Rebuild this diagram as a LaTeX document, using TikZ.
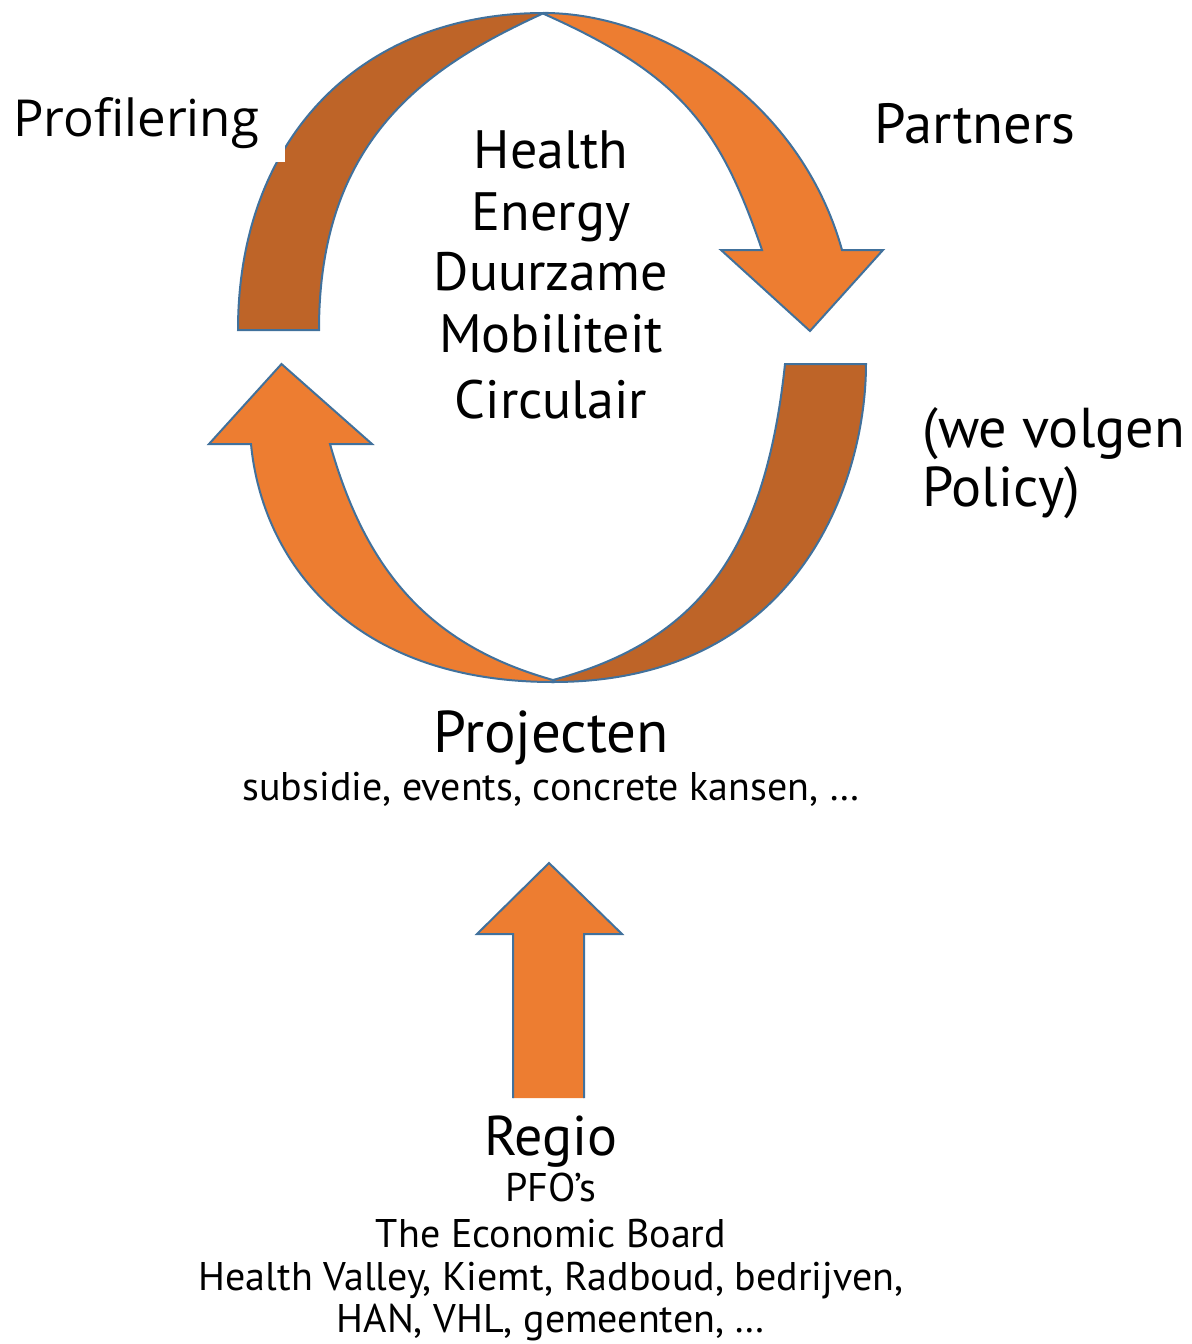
\documentclass[tikz,border=0pt]{standalone}
\usepackage{fontspec}
\setmainfont{PT Sans}
\newfontfamily\profont{Open Sans}
\definecolor{arrowfront}{HTML}{ED7D31}
\definecolor{arrowback}{HTML}{BE6428}
\definecolor{arrowline}{HTML}{41719C}
\begin{document}
\begin{tikzpicture}[x=0.5pt,y=-0.5pt,
  front/.style={fill=arrowfront,draw=arrowline,line width=1pt,line join=miter},
  back/.style={fill=arrowback,draw=arrowline,line width=1pt,line join=miter},
  bigtxt/.style={font=\fontsize{27}{31}\selectfont,inner sep=0pt,anchor=base},
  sidetxt/.style={font=\fontsize{28.1}{31}\selectfont,inner sep=0pt,anchor=base west},
  midtxt/.style={font=\fontsize{20}{24}\selectfont,inner sep=0pt,anchor=base}]
\useasboundingbox (0,0) rectangle (1192,1344);

% ---- top curved arrow: back (left leg)
\path[back] (238,330) .. controls (238,140) and (359,13) .. (544,13)
  .. controls (425.3,66.9) and (319,140) .. (319,330) -- cycle;
% ---- top curved arrow: front (right part with head)
\path[front] (544,13) .. controls (660,13) and (800,100) .. (842,250)
  -- (883,250) -- (810,331) -- (721,250) -- (762,250)
  .. controls (719.9,127) and (681,75) .. (544,14) -- cycle;

% ---- bottom curved arrow: back (right leg)
\path[back] (553,682) .. controls (800,682) and (866,480) .. (866,364)
  -- (785,364)
  .. controls (765,552.9) and (697.8,641) .. (553,680) -- cycle;
% ---- bottom curved arrow: front (left part with head)
\path[front] (553,682) .. controls (350,682) and (262,560) .. (251,444)
  -- (209,444) -- (281.5,364) -- (372,444) -- (330,444)
  .. controls (365.4,569) and (427.8,644.9) .. (553,680) -- cycle;

% ---- straight up arrow
\fill[arrowfront] (513,1098) -- (513,934) -- (477,934) -- (549,863) -- (622,934) -- (584,934) -- (584,1098) -- cycle;
\draw[arrowline,line width=1pt,line join=miter] (513,1098) -- (513,934) -- (477,934) -- (549,863) -- (622,934) -- (584,934) -- (584,1098);

% ---- text box of "Profilering"
\fill[white] (0,80) rectangle (285,162);

% ---- texts
\node[font=\profont\fontsize{25.5}{30}\selectfont,inner sep=0pt,anchor=base] (prof) at (136,136) {Profilering};
\node[bigtxt,font=\fontsize{28.3}{31}\selectfont] (partners) at (975,143) {Partners};
\node[bigtxt] (health) at (551,168) {Health};
\node[bigtxt] (energy) at (551,230) {Energy};
\node[bigtxt] (duurz) at (551,290) {Duurzame};
\node[bigtxt] (mobil) at (551,352) {Mobiliteit};
\node[bigtxt] (circ) at (551,418) {Circulair};
\node[sidetxt] (wevolgen) at (922,447) {(we volgen};
\node[sidetxt] (policy) at (922,506) {Policy)};
\node[bigtxt,font=\fontsize{29.5}{31}\selectfont] (proj) at (551,752) {Projecten};
\node[midtxt] (subs) at (551,800) {subsidie, events, concrete kansen, …};
\node[bigtxt,font=\fontsize{28}{31}\selectfont] (regio) at (551,1155) {Regio};
\node[midtxt] (pfo) at (551,1201) {PFO’s};
\node[midtxt] (teb) at (551,1247) {The Economic Board};
\node[midtxt] (hv) at (551,1290) {Health Valley, Kiemt, Radboud, bedrijven,};
\node[midtxt] (han) at (551,1332) {HAN, VHL, gemeenten, …};
\end{tikzpicture}
\end{document}
